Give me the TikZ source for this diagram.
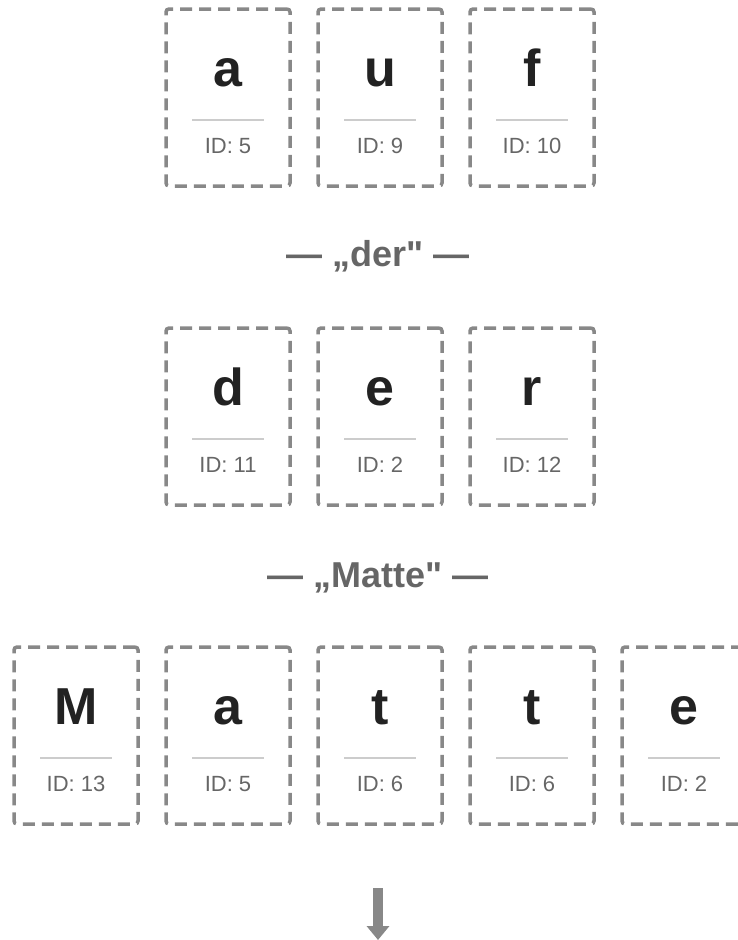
\documentclass[tikz,border=0pt]{standalone}
\usepackage{fontspec}
\setmainfont{Liberation Sans}
\newfontfamily\titlefont[Ligatures=TeXOff]{Liberation Sans}
\usetikzlibrary{arrows.meta}
\definecolor{boxgray}{HTML}{888888}
\definecolor{sepgray}{HTML}{CCCCCC}
\definecolor{idgray}{HTML}{666666}
\definecolor{letterdark}{HTML}{222222}
\tikzset{
  charbox/.style={draw=boxgray, line width=3.5pt, dash pattern=on 12pt off 7pt, rounded corners=3pt, minimum width=124pt, minimum height=177pt, inner sep=0pt},
  letter/.style={anchor=base, font=\fontsize{52}{56}\selectfont\bfseries, text=letterdark, inner sep=0pt},
  idtext/.style={anchor=base, font=\fontsize{22}{26}\selectfont, text=idgray, inner sep=0pt},
  sepline/.style={draw=sepgray, line width=1.5pt},
  title/.style={anchor=base, font=\titlefont\fontsize{36}{40}\selectfont\bfseries, text=idgray, inner sep=0pt},
  bigarrow/.style={draw=boxgray, line width=10pt, -{Triangle[width=22pt,length=14pt]}}
}
\newcommand\charbox[5]{% name, left x, top y, letter, id
  \node[charbox] (#1) at (#2+63,#3+88.5) {};
  \node[letter] (#1l) at (#2+63,#3+77) {#4};
  \coordinate (#1s1) at (#2+27,#3+111);
  \coordinate (#1s2) at (#2+99,#3+111);
  \draw[sepline] (#1s1) -- (#1s2);
  \node[idtext] (#1i) at (#2+63,#3+144) {ID: #5};
}
\begin{document}
\begin{tikzpicture}[x=1pt,y=-1pt]
\useasboundingbox (0,0) rectangle (738,940);
\clip (0,0) rectangle (738,940);
\charbox{ra}{165}{9}{a}{5}
\charbox{rb}{317}{9}{u}{9}
\charbox{rc}{469}{9}{f}{10}
\node[title] (t1) at (378,266) {— „der" —};
\charbox{sa}{165}{328}{d}{11}
\charbox{sb}{317}{328}{e}{2}
\charbox{sc}{469}{328}{r}{12}
\node[title] (t2) at (378,587) {— „Matte" —};
\charbox{ua}{13}{647}{M}{13}
\charbox{ub}{165}{647}{a}{5}
\charbox{uc}{317}{647}{t}{6}
\charbox{ud}{469}{647}{t}{6}
\charbox{ue}{621}{647}{e}{2}
\coordinate (a1) at (378,888);
\coordinate (a2) at (378,940);
\draw[bigarrow] (a1) -- (a2);
\end{tikzpicture}
\end{document}
